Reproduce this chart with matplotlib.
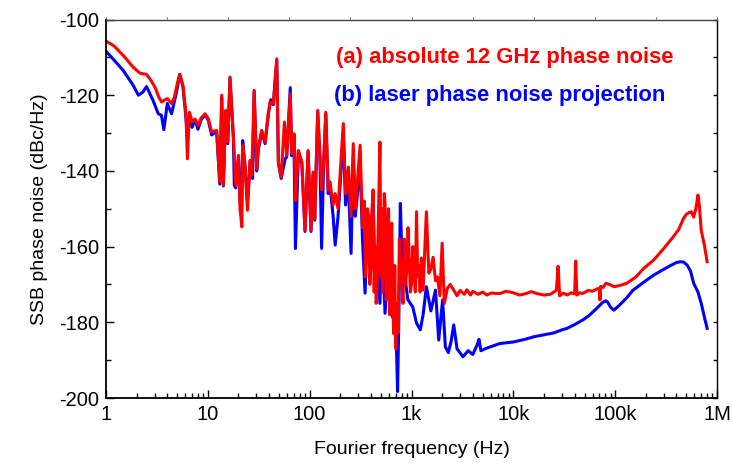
import numpy as np
import matplotlib
matplotlib.use("Agg")
import matplotlib.pyplot as plt
from matplotlib.ticker import FixedLocator, NullLocator, LogLocator

plt.rcParams['font.family'] = ['Liberation Sans', 'DejaVu Sans']
plt.rcParams['axes.unicode_minus'] = False

red_freq = [1.0, 1.2, 1.5, 1.85, 2.16, 2.5, 2.75, 3.03, 3.3, 3.52, 3.8, 4.0, 4.4, 4.7, 5.0, 5.3,
            5.7, 6.1, 6.3, 6.6, 7.0, 7.5, 8.0, 8.6,
            9.4, 10.1, 10.9, 12.2, 13.1, 13.7, 14.2, 15.0, 15.7, 16.5, 17.8, 18.8, 20, 20.7,
            21.6, 22, 23.2, 24.5, 26, 27, 28.5, 30.2, 31.3, 33.8, 36.5, 39.2, 40.8, 44, 47.5,
            49.3, 52.5, 56.5, 59.5, 64.5, 66.5, 70.5, 72.5, 77.5, 83.7, 90, 96.5, 103, 108, 112,
            120, 126, 131, 137, 144, 152, 158,
            170, 178, 190, 200, 214, 225, 240, 255, 268, 280, 290, 313,
            330, 345, 352, 360, 370, 380, 390, 400, 410, 420, 430, 440, 450, 460, 475, 490, 500,
            510, 520, 530, 540, 550, 565, 580, 595, 610, 625, 640, 655, 670, 685, 700, 720, 740,
            760,
            800, 825, 850, 875, 900, 925, 950, 975, 1000, 1030, 1060, 1090, 1120, 1150, 1180,
            1215, 1250, 1300, 1400, 1480, 1550, 1630, 1720,
            1800, 1900, 2000, 2100, 2250, 2400, 2600, 2800, 3000, 3300, 3500, 3800, 4000, 4500,
            5000, 5500, 6000, 7400, 8500, 10000, 11500, 13000, 15000, 17000, 20000, 23000, 25000,
            26500, 27500, 28500, 31000, 33700, 37000, 40000, 41000, 42000, 45000, 48000, 54000,
            60000, 66000, 70000, 71000, 72000, 76000, 81000, 88000, 98000, 110000, 130000,
            160000, 190000, 240000, 300000, 370000, 420000, 470000, 500000, 530000, 560000,
            590000, 620000, 650000, 670000, 700000, 750000, 800000]
red_db = [-105.7, -107.0, -109.7, -112.6, -114.2, -114.5, -116.0, -117.9, -120.5, -121.8, -121.2,
          -120.9, -122.2, -120.5, -117.0, -114.5,
          -117.5, -125, -136.8, -124.5, -127, -126.3, -128, -126,
          -124.9, -126.2, -129.7, -129.3, -142.9, -120, -143.8, -124, -132.4, -115.2, -130.6,
          -143.8, -135.9, -150,
          -154.8, -133.2, -138.5, -150.4, -137.2, -141.2, -118.7, -139.4, -134.1, -129.3, -132.4,
          -124.9, -121.8, -122.2, -110.4,
          -137.6, -141.6, -127.1, -135.9, -119.6, -135.4, -130.2, -147.8, -134.6, -137.6, -155.7,
          -134.6, -155.7, -140.3, -152.6,
          -124, -135.9, -145, -138, -124.5, -145, -142.9,
          -149, -146, -150, -140, -127.5, -146, -139, -152, -132.8, -150, -145, -133.2,
          -155, -148, -168, -160, -150, -152, -170, -165, -150, -145, -172, -160, -175, -170,
          -150, -132.4, -168,
          -150, -172, -163, -146, -148.5, -174, -160, -150, -178, -158, -153.8, -176, -183,
          -165, -187, -175, -182.8,
          -158,
          -167, -175, -158, -170, -166, -155, -163, -172, -170, -160, -165, -172, -150.8, -168,
          -165,
          -172, -163, -171.5, -150.8, -167, -166, -162.8, -169,
          -168, -173, -159.1, -175, -171, -170, -171.5, -173, -171.6, -172.6, -171.4, -172.8,
          -171.8, -172.6,
          -172, -172.8, -172.3, -172.4, -171.8, -172.2, -172.8, -172.5, -171.9, -172.4, -172.8,
          -172.6, -172,
          -171.5, -165.2, -173, -172.3, -172.8, -172.2, -172.5, -163.8, -172.8, -172.2, -172.4,
          -171.6,
          -171.8, -171.2, -171, -174.1, -170.5, -170.8, -169.7, -170, -170.6, -170.3, -169.7,
          -168, -165.8, -163.5, -160.5, -157.5, -155.5, -152.5, -151.5, -151, -150.8,
          -152.2, -150, -146.4, -149, -155.7, -159.5, -164]

blue_freq = [1.0, 1.18, 1.48, 1.85, 2.08, 2.3, 2.5, 2.9, 3.26, 3.5, 3.7, 4.0, 4.4, 4.9, 5.3, 5.7,
             6.1, 6.3, 6.6, 7.0, 7.5, 8.0, 8.6,
             9.4, 10.1, 10.9, 12.2, 13.1, 13.7, 14.2, 15.0, 15.7, 16.5, 17.8, 18.2, 18.8, 20,
             20.7, 21.4, 22, 23.2, 24.5, 26, 27.5, 28.5, 30.2, 31.3, 33.8, 36.5, 39.2, 41.5,
             44, 47.5, 49.3, 52.5, 57.5, 59.5, 64.5, 66.5, 70, 72.5, 77.5, 83.7, 90, 96.5, 103,
             108, 112, 120, 126, 131, 137, 144, 152, 158,
             170, 178, 190, 200, 214, 225, 240, 255, 268, 280, 290,
             313, 330, 350, 370, 390, 420, 440, 460, 490, 510, 550, 580, 620, 690, 710, 730, 750,
             777, 810, 840, 880, 920, 1030, 1120, 1220, 1300, 1400, 1550, 1720, 1850, 2020, 2150,
             2300, 2450, 2600, 2800, 3200, 3600, 4000, 4400, 4600, 4800, 5500, 7400, 10000,
             13000, 16000, 20000, 25000, 30000, 33700, 40000, 48000, 55000, 66000, 75000, 81000,
             85000, 90000, 97000, 110000, 130000, 150000, 200000, 240000, 300000, 350000,
             400000, 437000, 470000, 510000, 550000, 590000, 650000, 700000, 750000, 800000]
blue_db = [-108.4, -110.5, -113.5, -117.4, -120, -119.2, -117.7, -121.4, -124.9, -125.3, -129.1,
           -122.2, -124.9, -119.5, -114.5, -117.8,
           -126, -131, -126, -128.5, -126.5, -129, -126.5,
           -125.2, -126.6, -130.5, -129.6, -143.5, -120.5, -144, -124.5, -132.8, -115.5, -131,
           -143.8, -144.5, -136.5,
           -148, -150, -132, -139, -148.2, -138, -142, -119, -140, -134.5, -129.6, -132.8, -125.2,
           -121.2,
           -122.5, -110.8, -138, -142, -136.8, -136.3, -118, -136, -131, -160.5, -135, -138,
           -156, -135, -156,
           -141, -153, -124.5, -136.5, -160.5, -138.5, -125, -146, -143.5,
           -152, -159.6, -152, -143, -130, -149, -143, -161.8, -136, -152, -148,
           -138, -158, -172.3, -153.8, -160, -147, -169.7, -162, -175, -158, -177.6, -168, -177,
           -180.2, -186, -198.3, -180,
           -148.6, -165, -162.8, -170, -174, -176, -180.2, -182, -178, -170.6, -177, -171.5,
           -184.7, -174.1, -186.5,
           -188, -185, -180.7, -187, -189.1, -187.5, -188.5, -186, -184.5, -187.5, -186.8,
           -185.6, -185.2,
           -184.5, -183.8, -183.3, -182.8, -182, -181.6, -180.6, -179.4, -178.3, -176.3, -174.8,
           -174.3,
           -174.8, -176, -176.8, -175.5, -173.5, -171.5, -169, -167.5, -166, -165,
           -164.2, -164, -164.1, -164.9, -166.5, -169.7, -172, -175, -178.5, -181.6]

xtick_vals = [1, 10, 100, 1e3, 1e4, 1e5, 1e6]
xtick_labels = ['1', '10', '100', '1k', '10k', '100k', '1M']
ytick_vals = [-200, -180, -160, -140, -120, -100]
legend_a = '(a) absolute 12 GHz phase noise'
legend_b = '(b) laser phase noise projection'

assert len(red_freq) == len(red_db), (len(red_freq), len(red_db))
assert len(blue_freq) == len(blue_db), (len(blue_freq), len(blue_db))

fig = plt.figure(figsize=(7.32, 4.63), dpi=100)
ax = fig.add_axes([106/732, 1-398/463, (717-106)/732, (398-19.5)/463])

ax.plot(blue_freq, blue_db, color='#0000ff', lw=2.2, solid_joinstyle='round')
ax.plot(red_freq, red_db, color='#ff0000', lw=2.2, solid_joinstyle='round')

ax.set_xscale('log')
ax.set_xlim(1, 1e6)
ax.set_ylim(-200, -100)
ax.set_xticks(xtick_vals)
ax.set_xticklabels(xtick_labels)
ax.xaxis.set_minor_locator(LogLocator(base=10, subs=np.arange(2, 10), numticks=20))
ax.set_yticks(ytick_vals)
ax.yaxis.set_minor_locator(FixedLocator(np.arange(-190, -100, 20)))
ax.tick_params(which='major', direction='in', length=6, width=1, labelsize=14.5, pad=5,
               top=False, right=False)
ax.tick_params(which='minor', direction='in', length=3.5, width=1, top=False, right=False)
for s in ['left', 'bottom']:
    ax.spines[s].set_linewidth(1.3)
for s in ['top', 'right']:
    ax.spines[s].set_linewidth(1.0)
ax.spines['top'].set_color('#444444')

# opposite axes: ten equal divisions
secx = ax.secondary_xaxis('top')
secx.set_xticks(10 ** (0.6 * np.arange(11)))
secx.xaxis.set_minor_locator(NullLocator())
secx.tick_params(direction='out', length=1.5, width=0.8, labeltop=False, colors='#666666')
secx.spines['top'].set_visible(False)
secy = ax.secondary_yaxis('right')
secy.set_yticks(np.arange(-200, -99, 10))
secy.yaxis.set_minor_locator(NullLocator())
secy.tick_params(direction='in', length=3, width=1, labelright=False)
secy.spines['right'].set_visible(False)

ax.set_xlabel('Fourier frequency (Hz)', fontsize=14, labelpad=12)
ax.set_ylabel('SSB phase noise (dBc/Hz)', fontsize=14, labelpad=8)

ax.text(336/732, 1-58/463, legend_a, transform=fig.transFigure, color='#ff0000',
        fontsize=15.8, fontweight='bold', va='center', ha='left')
ax.text(334/732, 1-96/463, legend_b, transform=fig.transFigure, color='#0000ff',
        fontsize=15.8, fontweight='bold', va='center', ha='left')

fig.savefig('out.png', dpi=100)
